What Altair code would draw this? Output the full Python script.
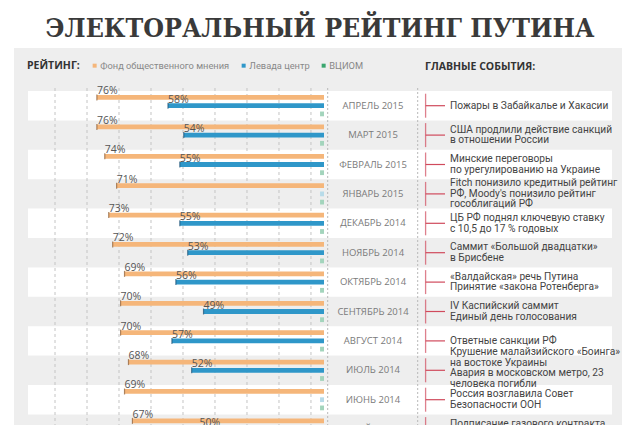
import altair as alt
import pandas as pd

TITLE = "ЭЛЕКТОРАЛЬНЫЙ РЕЙТИНГ ПУТИНА"
EVENTS_HEAD = "ГЛАВНЫЕ СОБЫТИЯ:"
RATING_HEAD = "РЕЙТИНГ:"

months = ["АПРЕЛЬ 2015", "МАРТ 2015", "ФЕВРАЛЬ 2015", "ЯНВАРЬ 2015",
          "ДЕКАБРЬ 2014", "НОЯБРЬ 2014", "ОКТЯБРЬ 2014", "СЕНТЯБРЬ 2014",
          "АВГУСТ 2014", "ИЮЛЬ 2014", "ИЮНЬ 2014", "МАЙ 2014"]
sources = ["Фонд общественного мнения", "Левада центр", "ВЦИОМ"]
fom = [76, 76, 74, 71, 73, 72, 69, 70, 70, 68, 69, 67]
levada = [58, 54, 55, None, 55, 53, 56, 49, 57, 52, None, 50]
vciom = [None] * 12
events = [
    ["Пожары в Забайкалье и Хакасии"],
    ["США продлили действие санкций", "в отношении России"],
    ["Минские переговоры", "по урегулированию на Украине"],
    ["Fitch понизило кредитный рейтинг", "РФ, Moody's понизило рейтинг", "гособлигаций РФ"],
    ["ЦБ РФ поднял ключевую ставку", "с 10,5 до 17 % годовых"],
    ["Саммит «Большой двадцатки»", "в Брисбене"],
    ["«Валдайская» речь Путина", "Принятие «закона Ротенберга»"],
    ["IV Каспийский саммит", "Единый день голосования"],
    ["Ответные санкции РФ"],
    ["Крушение малайзийского «Боинга»", "на востоке Украины", "Авария в московском метро, 23", "человека погибли"],
    ["Россия возглавила Совет", "Безопасности ООН"],
    ["Подписание газового контракта", "с Китаем"],
]

BASE = 18.5
ORANGE, BLUE, GREEN = "#f5b67a", "#2f97c9", "#3aa66e"
RED = "#d04a5c"
FONT = "Open Sans"
FONT2 = "Roboto"
LH = 10.5

rows = []
for i, m in enumerate(months):
    for s, vals in zip(sources, [fom, levada, vciom]):
        rows.append({"month": m, "source": s, "value": vals[i]})
df = pd.DataFrame(rows)
mdf = pd.DataFrame({"month": months, "idx": list(range(len(months))), "ev": events,
                    "n": [len(e) for e in events]})

row_h = 29.4
Y = alt.Y("month:N", sort=months, axis=None,
          scale=alt.Scale(domain=months, range=[83, 83 + row_h * len(months)],
                          paddingInner=0, paddingOuter=0))
YO = alt.YOffset("source:N", sort=sources,
                 scale=alt.Scale(domain=sources, paddingInner=0.42, paddingOuter=0.5))
px_per = 3.95
xscale = alt.Scale(domain=[BASE, 100], range=[316, 316 - (100 - BASE) * px_per])

one = pd.DataFrame({"a": [0]})

panel = alt.Chart(one).mark_rect(color="#eeeeee").encode(
    x=alt.value(6), x2=alt.value(614), y=alt.value(40), y2=alt.value(430))

stripes = alt.Chart(mdf).transform_filter("datum.idx % 2 == 0").mark_rect(color="white").encode(
    y=Y, x=alt.value(20), x2=alt.value(604))

grid_vals = [21.8 + 8.1 * i for i in range(9)]
grid = alt.Chart(pd.DataFrame({"g": grid_vals})).mark_rule(
    color="#c4c4c4", strokeDash=[3, 3], strokeWidth=1).encode(
    x=alt.X("g:Q", scale=xscale, axis=None), y=alt.value(80), y2=alt.value(430))

sep1 = alt.Chart(one).mark_rule(color="#b8b8b8", strokeDash=[2, 2]).encode(
    x=alt.value(319.7), y=alt.value(80), y2=alt.value(430))
sep2 = alt.Chart(one).mark_rule(color="#b8b8b8", strokeDash=[2, 2]).encode(
    x=alt.value(409.7), y=alt.value(80), y2=alt.value(430))

bars = alt.Chart(df).transform_filter("isValid(datum.value)").transform_calculate(
    b=str(BASE)).mark_bar().encode(
    y=Y, yOffset=YO,
    x=alt.X("value:Q", scale=xscale, axis=None), x2="b:Q",
    color=alt.Color("source:N", scale=alt.Scale(domain=sources, range=[ORANGE, BLUE, GREEN]),
                    legend=alt.Legend(orient="none", legendX=19, legendY=53, direction="horizontal",
                                      title=RATING_HEAD, titleOrient="left", titleFont=FONT,
                                      titleFontSize=10.5, titleFontWeight="bold", titleColor="#333",
                                      titlePadding=10, labelFont=FONT2, labelFontSize=9.3,
                                      labelColor="#888", symbolType="square", symbolSize=16,
                                      symbolStrokeWidth=0, labelOffset=1, columnPadding=9)))

stubs = alt.Chart(df).transform_filter("!isValid(datum.value)").transform_calculate(
    b=str(BASE), e=str(BASE + 1.0)).mark_bar().encode(
    y=Y, yOffset=YO,
    x=alt.X("b:Q", scale=xscale, axis=None), x2="e:Q",
    color=alt.condition("datum.source == 'Левада центр'", alt.value("#b7dbe9"), alt.value("#a3d4bc")))

ticks = alt.Chart(df).transform_filter("isValid(datum.value)").mark_tick(
    orient="vertical", thickness=1.2, size=6).encode(
    y=Y, yOffset=YO, x=alt.X("value:Q", scale=xscale, axis=None),
    color=alt.condition("datum.source == 'Левада центр'", alt.value("#1c4f72"), alt.value("#8a5a30")))

labels = alt.Chart(df).transform_filter("isValid(datum.value)").transform_calculate(
    lab="datum.value + '%'").mark_text(
    align="left", baseline="alphabetic", dy=-3, font=FONT, fontSize=10.5, color="#555").encode(
    y=Y, yOffset=YO, x=alt.X("value:Q", scale=xscale, axis=None), text="lab:N")

month_txt = alt.Chart(mdf).mark_text(font=FONT, fontSize=9.5, color="#7a7a7a",
                                     align="center", baseline="middle").encode(
    y=Y, x=alt.value(365), text="month:N")

brk = alt.Chart(mdf).mark_tick(orient="vertical", size=24, thickness=1.3, color=RED).encode(
    y=Y, x=alt.value(417.6))
conn = alt.Chart(mdf).mark_rule(color=RED, strokeWidth=1.2).encode(
    y=Y, x=alt.value(417.6), x2=alt.value(437))

ev_layers = []
for k in range(1, 5):
    shift = -2.5 if k == 4 else 0
    ev_layers.append(
        alt.Chart(mdf).transform_filter(f"datum.n == {k}").mark_text(
            font=FONT2, fontSize=10.2, color="#444", align="left", baseline="middle",
            lineHeight=LH, dy=-(k - 1) * LH / 2 + shift).encode(
            y=Y, x=alt.value(442), text="ev:N"))

title = alt.Chart(pd.DataFrame({"t": [TITLE]})).mark_text(
    font="DejaVu Serif Condensed", fontSize=26.5, fontWeight="bold", color="#3a3a3a",
    align="center", baseline="alphabetic").encode(
    x=alt.value(312), y=alt.value(29), text="t:N")

ev_head = alt.Chart(pd.DataFrame({"t": [EVENTS_HEAD]})).mark_text(
    font=FONT, fontSize=10.5, fontWeight="bold", color="#333", align="left",
    baseline="middle").encode(x=alt.value(417), y=alt.value(59), text="t:N")

chart = alt.layer(panel, stripes, grid, sep1, sep2, bars, stubs, ticks, labels,
                  month_txt, brk, conn, *ev_layers, title, ev_head).properties(
    width=624, height=417, autosize=alt.AutoSizeParams(type="none"), padding=0,
    background="white").configure_view(stroke=None)

chart.save("out.html", embed_options={"renderer": "svg", "actions": False})
